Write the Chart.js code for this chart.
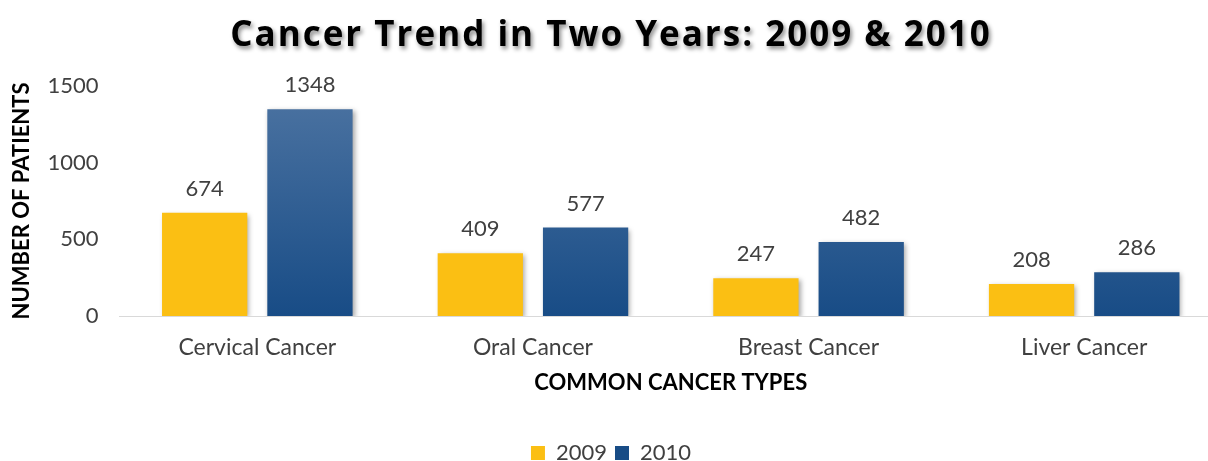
<!DOCTYPE html>
<html>
<head>
<meta charset="utf-8">
<script src="https://cdn.jsdelivr.net/npm/chart.js@4/dist/chart.umd.min.js"></script>
<style>
  html, body { margin: 0; padding: 0; background: #fff; overflow: hidden; }
  #wrap { position: relative; width: 1222px; height: 474px; }
</style>
</head>
<body>
<div id="wrap"><canvas id="c"></canvas></div>
<script>
const categories = ["Cervical Cancer", "Oral Cancer", "Breast Cancer", "Liver Cancer"];
const series2009 = [674, 409, 247, 208];
const series2010 = [1348, 577, 482, 286];
const seriesNames = ["2009", "2010"];
const yTicks = [0, 500, 1000, 1500];

const TEXT = '#404040';
const FONT = 'Lato';

function blueGradient(ctx, chart) {
  const area = chart.chartArea;
  if (!area) return '#1f5a94';
  const g = ctx.createLinearGradient(0, area.top, 0, area.bottom);
  g.addColorStop(0, '#4d74a2');
  g.addColorStop(1, '#184c86');
  return g;
}

const shadowPlugin = {
  id: 'barShadow',
  beforeDatasetsDraw(chart) {
    const ctx = chart.ctx;
    ctx.save();
    ctx.shadowColor = 'rgba(0,0,0,0.35)';
    ctx.shadowBlur = 5;
    ctx.shadowOffsetX = 2;
    ctx.shadowOffsetY = 2;
  },
  afterDatasetsDraw(chart) {
    chart.ctx.restore();
    const ctx = chart.ctx;
    ctx.save();
    ctx.font = '22px ' + FONT;
    ctx.fillStyle = TEXT;
    ctx.textAlign = 'center';
    ctx.textBaseline = 'middle';
    chart.data.datasets.forEach((ds, i) => {
      const meta = chart.getDatasetMeta(i);
      meta.data.forEach((bar, j) => {
        ctx.fillText(String(ds.data[j]), bar.x, bar.y - 24);
      });
    });
    ctx.restore();
  }
};

const titleShadowPlugin = {
  id: 'titleShadow',
  afterLayout(chart) {
    const tb = chart.titleBlock;
    if (tb && !tb._wrapped) {
      const orig = tb.draw;
      tb.draw = function() {
        const ctx = this.ctx;
        ctx.save();
        ctx.shadowColor = 'rgba(0,0,0,0.45)';
        ctx.shadowBlur = 4;
        ctx.shadowOffsetX = 2;
        ctx.shadowOffsetY = 3;
        try { ctx.letterSpacing = '2px'; } catch (e) {}
        orig.apply(this, arguments);
        ctx.restore();
      };
      tb._wrapped = true;
    }
  }
};

new Chart(document.getElementById('c'), {
  type: 'bar',
  data: {
    labels: categories,
    datasets: [
      { label: seriesNames[0], data: series2009, backgroundColor: '#fbbf13',
        categoryPercentage: 0.764, barPercentage: 0.81 },
      { label: seriesNames[1], data: series2010,
        backgroundColor: (c) => blueGradient(c.chart.ctx, c.chart),
        categoryPercentage: 0.764, barPercentage: 0.81 }
    ]
  },
  options: {
    responsive: true,
    maintainAspectRatio: false,
    animation: false,
    layout: { padding: { left: 0, right: 0, top: 0, bottom: 0 } },
    plugins: {
      title: {
        display: true,
        text: 'Cancer Trend in Two Years: 2009 & 2010',
        color: '#000',
        font: { family: 'Open Sans', size: 35, weight: 'bold' },
        padding: { top: 15, bottom: 29 }
      },
      legend: {
        position: 'bottom',
        labels: {
          color: TEXT,
          font: { family: FONT, size: 22 },
          boxWidth: 14, boxHeight: 14, padding: 8
        }
      },
      tooltip: { enabled: false }
    },
    scales: {
      x: {
        grid: { display: false, drawTicks: false },
        border: { display: true, color: '#d9d9d9', width: 1 },
        ticks: { color: TEXT, font: { family: FONT, size: 23 }, padding: 18 },
        title: {
          display: true, text: 'COMMON CANCER TYPES', color: '#000',
          font: { family: FONT, size: 22, weight: 'bold' },
          padding: { top: 10, bottom: 38 }
        },
        afterFit(s) { s.height = 118; }
      },
      y: {
        min: 0, max: 1500,
        afterBuildTicks(s) { s.ticks = yTicks.map(v => ({ value: v })); },
        grid: { display: false, drawTicks: false },
        border: { display: false },
        ticks: { color: TEXT, font: { family: FONT, size: 22 }, padding: 21,
                 callback: (v) => String(v) },
        title: {
          display: true, text: 'NUMBER OF PATIENTS', color: '#000',
          font: { family: FONT, size: 22, weight: 'bold' },
          padding: { top: 9, bottom: 0 }
        },
        afterFit(s) { s.width = 119.5; }
      }
    }
  },
  plugins: [shadowPlugin, titleShadowPlugin]
});
</script>
</body>
</html>
